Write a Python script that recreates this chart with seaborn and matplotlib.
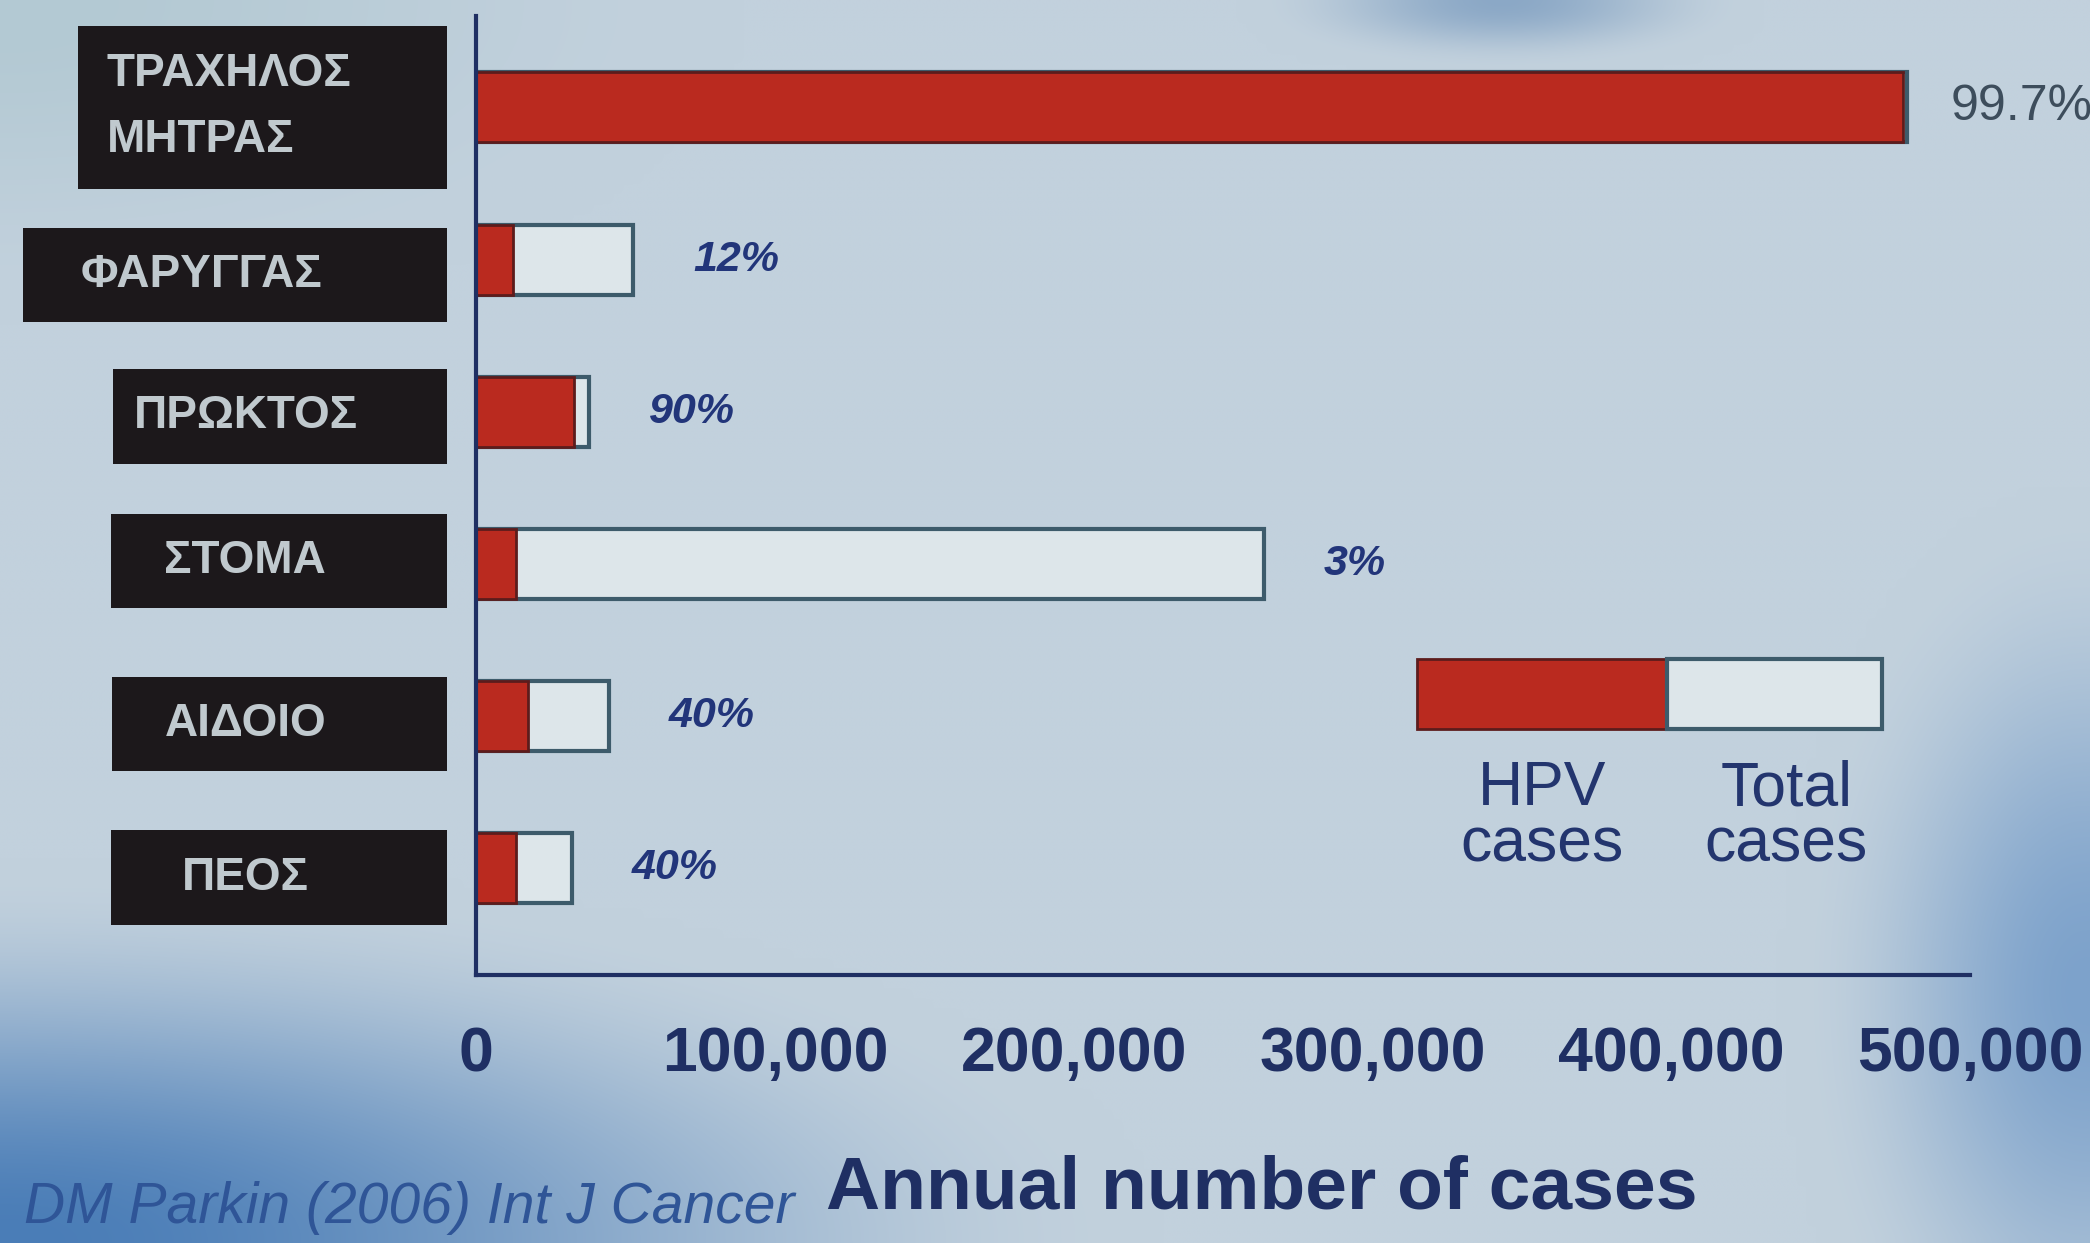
import numpy as np
import pandas as pd
import matplotlib
matplotlib.use("Agg")
import matplotlib.pyplot as plt
import matplotlib.transforms as mtransforms
from matplotlib.patches import Rectangle
from matplotlib.ticker import FuncFormatter
from matplotlib.colors import to_rgb
import seaborn as sns

# data (Parkin 2006)
sites = ["ΤΡΑΧΗΛΟΣ\nΜΗΤΡΑΣ", "ΦΑΡΥΓΓΑΣ", "ΠΡΩΚΤΟΣ", "ΣΤΟΜΑ", "ΑΙΔΟΙΟ", "ΠΕΟΣ"]
total_cases = [479000, 52600, 37900, 263700, 44600, 32100]
hpv_cases = [477600, 12500, 32600, 13400, 17400, 13400]
pct_labels = ["99.7%", "12%", "90%", "3%", "40%", "40%"]
xticks = [0, 100000, 200000, 300000, 400000, 500000]

df = pd.DataFrame({"site": sites, "total": total_cases, "hpv": hpv_cases})

sns.set_style("white")
plt.rcParams["font.family"] = ["Liberation Sans", "DejaVu Sans"]

navy = "#1f2f63"
red = "#ba2a1f"
pale = "#dde6ea"

fig = plt.figure(figsize=(20.9, 12.43), dpi=100)

# photo-like background wash
bg = fig.add_axes([0, 0, 1, 1], zorder=-10)
H, W = 124, 209
u, v = np.meshgrid(np.linspace(0, 1, W), np.linspace(0, 1, H))
img = np.ones((H, W, 3)) * np.array(to_rgb("#c2d1dd"))
def blend(img, w, col):
    w = np.clip(w, 0, 1)[..., None]
    w = w * w * (3 - 2 * w)
    return img * (1 - w) + np.array(to_rgb(col)) * w
img = blend(img, 1 - np.hypot(u / 0.55, (v - 1) / 0.30), "#4a7db7")
img = blend(img, 1 - np.hypot((u - 1) / 0.14, (v - 0.8) / 0.40), "#7da2cb")
img = blend(img, 1 - np.hypot((u - 0.72) / 0.12, v / 0.05), "#8ba8c6")
img = blend(img, 1 - np.hypot(u / 0.35, v / 0.25), "#b3c9d3")
bg.imshow(img, aspect="auto", extent=[0, 1, 0, 1], interpolation="bicubic")
bg.axis("off")

ax = fig.add_axes([0.2278, 0.2156, 0.7148, 0.7715])
ax.set_facecolor("none")

sns.barplot(data=df, y="site", x="total", orient="h", color=pale, saturation=1,
            edgecolor="#3d5b6b", linewidth=3, width=0.46, ax=ax)
sns.barplot(data=df, y="site", x="hpv", orient="h", color=red, saturation=1,
            edgecolor="#5c1c1c", linewidth=2, width=0.46, ax=ax)

ax.set_xlim(0, 500000)
ax.set_ylim(5.7, -0.6)
ax.set_xticks(xticks)
ax.xaxis.set_major_formatter(FuncFormatter(lambda x, p: f"{int(x):,}"))
ax.tick_params(axis="x", direction="out", length=19, width=2, color=navy,
               pad=17, labelsize=45, labelcolor=navy)
for lab in ax.get_xticklabels():
    lab.set_fontweight("bold")
ax.tick_params(axis="y", left=False, labelleft=False)
ax.set_ylabel("")
ax.set_xlabel("Annual number of cases", fontsize=54, fontweight="bold", color=navy)
ax.xaxis.set_label_coords(0.526, -0.187)

for side in ["top", "right"]:
    ax.spines[side].set_visible(False)
for side in ["left", "bottom"]:
    ax.spines[side].set_color(navy)
    ax.spines[side].set_linewidth(3)

# percentage labels
for i, (tot, lab) in enumerate(zip(total_cases, pct_labels)):
    if i == 0:
        ax.annotate(lab, xy=(tot, i), xytext=(31, 0), textcoords="offset points",
                    va="center", ha="left", fontsize=36, color="#3d4d5c")
    else:
        ax.annotate(lab, xy=(tot, i), xytext=(43, 0), textcoords="offset points",
                    va="center", ha="left", fontsize=31, fontweight="bold",
                    fontstyle="italic", color="#22357a")

# black category boxes
trans = mtransforms.blended_transform_factory(fig.transFigure, ax.transData)
box_right = 0.2139
box_w = [0.1766, 0.2029, 0.1600, 0.1610, 0.1605, 0.1610]
box_h = [1.07, 0.62, 0.62, 0.62, 0.62, 0.62]
box_dy = [0.0, 0.1, 0.03, -0.02, 0.05, 0.06]
for i, (name, w, h, dy) in enumerate(zip(sites, box_w, box_h, box_dy)):
    ax.add_patch(Rectangle((box_right - w, i + dy - h / 2), w, h, transform=trans,
                           facecolor="#1c181b", edgecolor="none", clip_on=False))
    ax.text(box_right - w / 2 - 0.016, i + dy, name, transform=trans, ha="center",
            va="center", multialignment="left", fontsize=33, fontweight="bold",
            color="#c0c9ce", linespacing=1.65, clip_on=False)

# legend drawn as a mini stacked bar
ax.add_patch(Rectangle((0.630, 0.257), 0.167, 0.073, transform=ax.transAxes,
                       facecolor=red, edgecolor="#5c1c1c", linewidth=2))
ax.add_patch(Rectangle((0.797, 0.257), 0.144, 0.073, transform=ax.transAxes,
                       facecolor=pale, edgecolor="#3d5b6b", linewidth=3))
ax.text(0.7135, 0.225, "HPV\ncases", transform=ax.transAxes, ha="center", va="top",
        fontsize=45, color="#23356e", linespacing=0.95)
ax.text(0.877, 0.225, "Total\ncases", transform=ax.transAxes, ha="center", va="top",
        fontsize=45, color="#23356e", linespacing=0.95)

fig.text(0.0115, 0.016, "DM Parkin (2006) Int J Cancer", fontsize=41,
         fontstyle="italic", color="#2f5597", va="baseline")

fig.savefig("out.png", dpi=100)
